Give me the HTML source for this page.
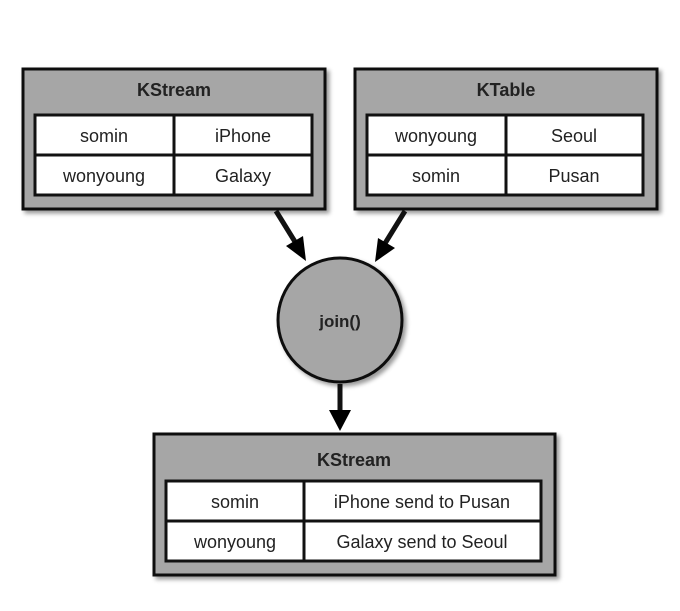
<!DOCTYPE html>
<html><head><meta charset="utf-8"><style>
body{margin:0;background:#fff;width:680px;height:606px;overflow:hidden}
</style></head><body>
<svg width="680" height="606" viewBox="0 0 680 606" font-family="Liberation Sans, sans-serif">
<defs><filter id="s" x="-10%" y="-10%" width="130%" height="130%"><feDropShadow dx="3" dy="3" stdDeviation="2" flood-color="#000" flood-opacity="0.4"/></filter></defs>
<g stroke="#111" stroke-width="3">
<rect x="23" y="69" width="302" height="140" fill="#a6a6a6" filter="url(#s)"/>
<rect x="355" y="69" width="302" height="140" fill="#a6a6a6" filter="url(#s)"/>
<rect x="154" y="434" width="401" height="141" fill="#a6a6a6" filter="url(#s)"/>
<circle cx="340" cy="320" r="62" fill="#a6a6a6" filter="url(#s)"/>
<rect x="35" y="115" width="277" height="80" fill="#fff"/>
<line x1="174" y1="115" x2="174" y2="195"/><line x1="35" y1="155" x2="312" y2="155"/>
<rect x="367" y="115" width="276" height="80" fill="#fff"/>
<line x1="506" y1="115" x2="506" y2="195"/><line x1="367" y1="155" x2="643" y2="155"/>
<rect x="166" y="481" width="375" height="80" fill="#fff"/>
<line x1="304" y1="481" x2="304" y2="561"/><line x1="166" y1="521" x2="541" y2="521"/>
<g stroke-width="5"><line x1="276" y1="211" x2="297" y2="245"/><line x1="405" y1="211" x2="384" y2="245"/><line x1="340" y1="384" x2="340" y2="414"/></g>
</g>
<g fill="#000">
<polygon points="306,261 286,246 303,236"/>
<polygon points="375,262 378,238 395,248"/>
<polygon points="340,431 329,410 351,410"/>
</g>
<g text-anchor="middle" font-size="18" fill="#222">
<text x="174" y="96" font-weight="bold">KStream</text>
<text x="506" y="96" font-weight="bold">KTable</text>
<text x="354" y="466" font-weight="bold">KStream</text>
<text x="340" y="327" font-weight="bold" font-size="17">join()</text>
<text x="104" y="142">somin</text><text x="243" y="142">iPhone</text>
<text x="104" y="182">wonyoung</text><text x="243" y="182">Galaxy</text>
<text x="436" y="142">wonyoung</text><text x="574" y="142">Seoul</text>
<text x="436" y="182">somin</text><text x="574" y="182">Pusan</text>
<text x="235" y="508">somin</text><text x="422" y="508">iPhone send to Pusan</text>
<text x="235" y="548">wonyoung</text><text x="422" y="548">Galaxy send to Seoul</text>
</g>
</svg>
</body></html>
